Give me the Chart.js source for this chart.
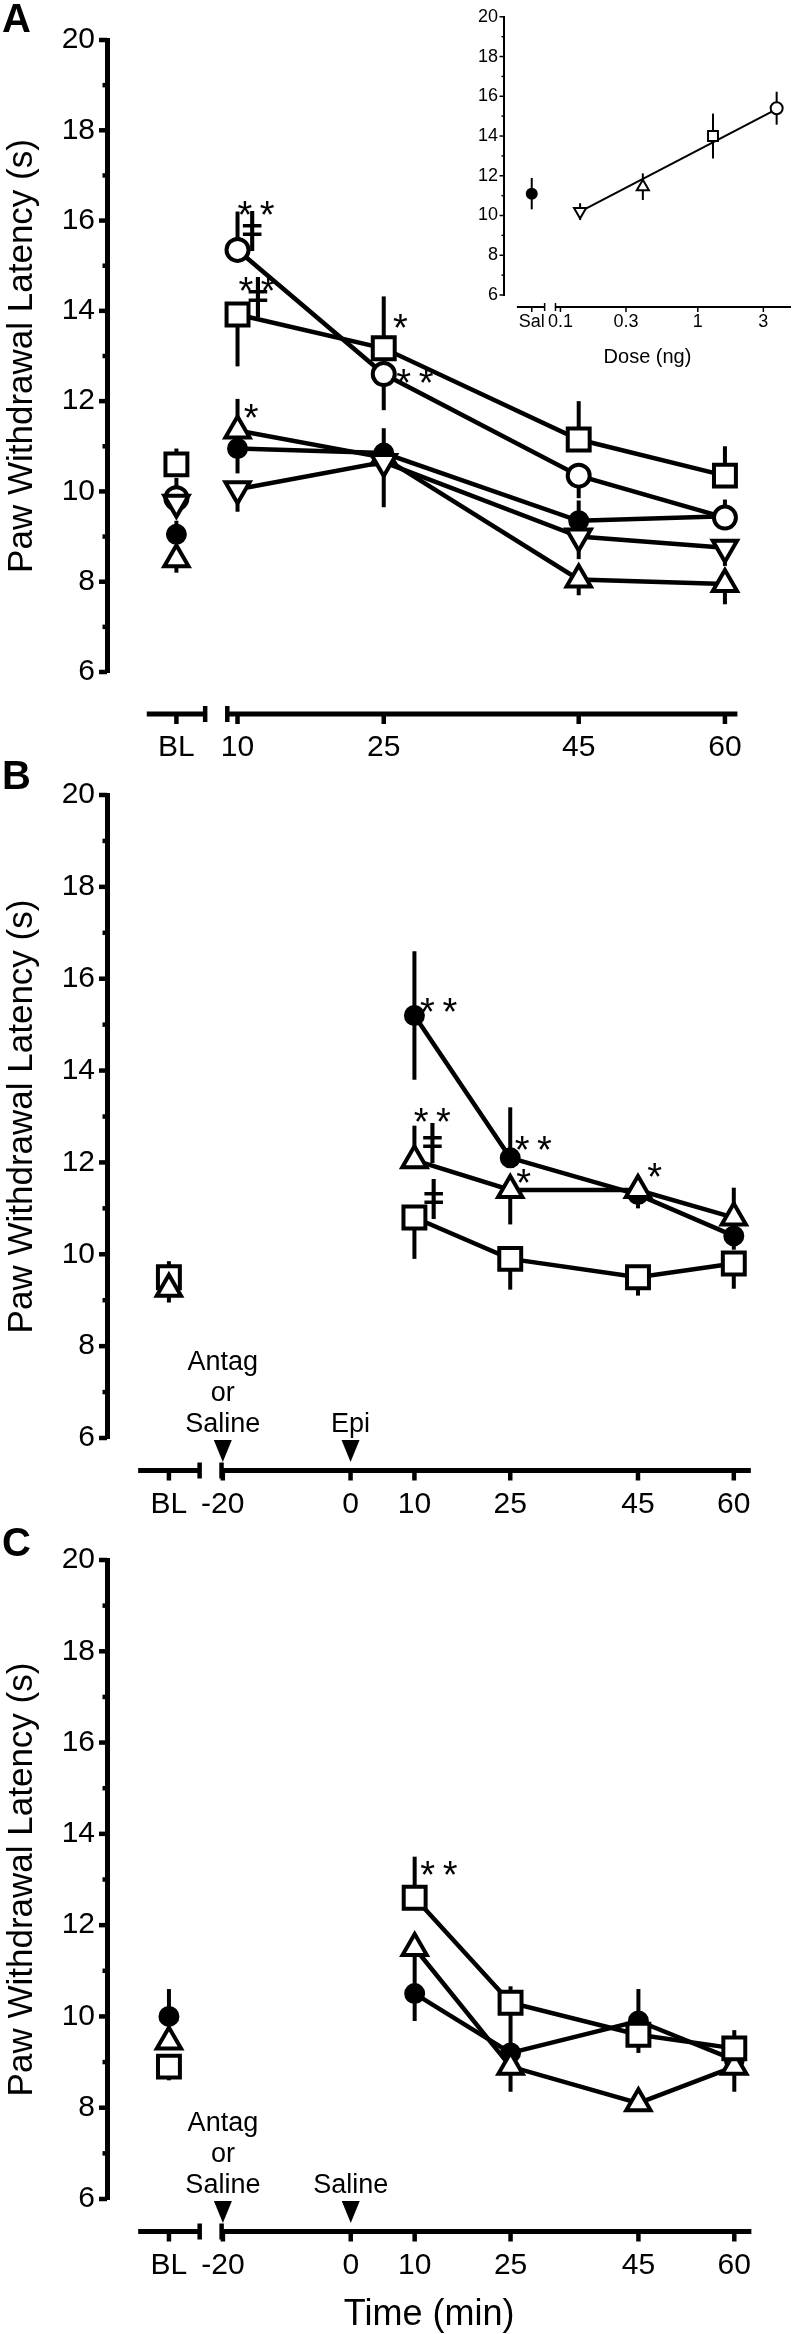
<!DOCTYPE html>
<html>
<head>
<meta charset="utf-8">
<title>Paw withdrawal latency</title>
<script src="https://cdn.jsdelivr.net/npm/chart.js@4.4.1/dist/chart.umd.min.js"></script>
<style>
  body { margin: 0; background: #fff; }
  #page { position: relative; width: 800px; height: 2334px; overflow: hidden; }
  #page canvas { position: absolute; left: 0; }
  .panel { position: absolute; left: 2px; margin: 0; font: bold 40px/40px "Liberation Sans", Arial, sans-serif; }
</style>
</head>
<body>
<div id="page">
  <canvas id="chartA" width="800" height="770" style="top:0"></canvas>
  <canvas id="inset" width="800" height="370" style="top:0"></canvas>
  <canvas id="chartB" width="800" height="780" style="top:750px"></canvas>
  <canvas id="chartC" width="800" height="804" style="top:1530px"></canvas>
  <div class="panel" style="top:-2px">A</div>
  <div class="panel" style="top:755px">B</div>
  <div class="panel" style="top:1522px">C</div>
</div>
<script>
Chart.defaults.font.family = '"Liberation Sans", Arial, Helvetica, sans-serif';
Chart.defaults.color = '#000';

const yTicks = [6, 8, 10, 12, 14, 16, 18, 20];

// ---- A: epinephrine doses over time
const timesA = ['BL', 10, 25, 45, 60];
const xLabelsA = ['BL', '10', '25', '45', '60'];
const aBox  = [10.6, 13.92, 13.17, 11.15, 10.35];
const aInv  = [9.75, 10.05, 10.65, 9.0, 8.75];
const aRing = [9.85, 15.35, 12.6, 10.35, 9.42];
const aDot  = [9.05, 10.95, 10.85, 9.35, 9.45];
const aTri  = [8.5, 11.35, 10.75, 8.05, 7.95];
// SEM, drawn on one side only: u = up, d = down, b = both
const aBoxSem  = [0.35, 1.15, 1.15, 0.85, 0.65], aBoxDir  = 'uduuu';
const aInvSem  = [0.3, 0.5, 1.0, 0.5, 0.4],      aInvDir  = 'ddddd';
const aRingSem = [0.45, 0.85, 0.8, 0.5, 0.4],    aRingDir = 'uuddu';
const aDotSem  = [0.3, 0.55, 0.55, 0.45, 0.3],   aDotDir  = 'uduud';
const aTriSem  = [0.3, 0.7, 0.3, 0.35, 0.45],    aTriDir  = 'duudd';
const notesA = [['**', 11.9, 16.24], ['ǂ', 11.5, 15.77], ['**', 12.0, 14.56], ['ǂ', 12.1, 14.31],
                ['*', 26.7, 13.75], ['**', 28.2, 12.53], ['*', 11.4, 11.74]];

// ---- inset: dose response at 10 min
const insetDose = [0.139, 0.398, 1.29, 3.75];
const insetVal  = [10.2, 11.45, 14.0, 15.4];
const insetSem  = [0.42, 0.67, 1.13, 0.83];
const insetSal = [11.1], insetSalSem = [0.79];
const fitDose = [0.139, 3.75], fitVal = [10.2, 15.35];
const insetLabels = ['Sal', '0.1', '0.3', '1', '3'];
const insetTickDose = [0.0618, 0.1, 0.3, 1, 3];

// ---- B: antagonist or saline, then epinephrine
const timesBC = ['BL', 10, 25, 45, 60];
const xLabelsBC = ['BL', '-20', '0', '10', '25', '45', '60'];
const xTickTimesBC = ['BL', -20, 0, 10, 25, 45, 60];
const bTri = [9.25, 12.05, 11.4, 11.4, 10.8];
const bBox = [9.5, 10.8, 9.9, 9.5, 9.8];
const bDot = [9.4, 15.2, 12.1, 11.3, 10.4];
const bTriSem = [0.3, 0.75, 0.75, 0.4, 0.65], bTriDir = 'duddu';
const bBoxSem = [0.35, 0.9, 0.67, 0.4, 0.55], bBoxDir = 'udddd';
const bDotSem = [0.3, 1.4, 1.1, 0.3, 0.3],    bDotDir = 'dbuud';
const notesB = [['**', 13.8, 15.4], ['**', 12.8, 13.0], ['ǂ', 12.8, 12.42], ['**', 28.6, 12.4],
                ['*', 27.1, 11.68], ['*', 47.6, 11.8], ['ǂ', 13.0, 11.2]];

// ---- C: antagonist or saline, then saline
const cBox = [8.9, 12.6, 10.3, 9.6, 9.3];
const cTri = [9.45, 11.5, 8.9, 8.1, 8.9];
const cDot = [10.0, 10.5, 9.2, 9.9, 9.05];
const cBoxSem = [0.3, 0.9, 0.36, 0.4, 0.4],   cBoxDir = 'duudu';
const cTriSem = [0.3, 1.0, 0.55, 0.15, 0.55], cTriDir = 'udddd';
const cDotSem = [0.6, 0.6, 0.9, 0.7, 0.3],    cDotDir = 'uduuu';
const notesC = [['**', 13.8, 13.22]];

const MARK = {
  dot:  {pointStyle: 'circle', pointRadius: 8.5, pointBackgroundColor: '#000'},
  ring: {pointStyle: 'circle', pointRadius: 11, pointBackgroundColor: '#fff'},
  box:  {pointStyle: 'rect', pointRadius: 15.5, pointBackgroundColor: '#fff'},
  tri:  {pointStyle: 'triangle', pointRadius: 14, pointBackgroundColor: '#fff'},
  inv:  {pointStyle: 'triangle', pointRadius: 14, pointRotation: 180, pointBackgroundColor: '#fff'}
};

const pos = (t, bl) => t === 'BL' ? bl : t;

function series(times, bl, vals, sem, dir, mark) {
  return Object.assign({
    data: vals.map((v, i) => ({x: pos(times[i], bl), y: v})),
    sem: sem, dir: dir,
    borderColor: '#000', borderWidth: 4.5,
    pointBorderColor: '#000', pointBorderWidth: 4,
    clip: false,
    // baseline is not joined to the time course
    segment: {borderColor: c => c.p0DataIndex === 0 ? 'rgba(0,0,0,0)' : undefined}
  }, mark);
}

const errBars = {
  id: 'errBars',
  beforeDatasetsDraw(chart, args, o) {
    const ctx = chart.ctx, ys = chart.scales.y;
    ctx.save();
    ctx.strokeStyle = '#000';
    ctx.lineWidth = o.width;
    chart.data.datasets.forEach((ds, i) => {
      if (!ds.sem) return;
      chart.getDatasetMeta(i).data.forEach((pt, j) => {
        const s = ds.sem[j], d = ds.dir[j], v = ds.data[j].y;
        const hi = d === 'd' ? v : v + s, lo = d === 'u' ? v : v - s;
        ctx.beginPath();
        ctx.moveTo(pt.x, ys.getPixelForValue(hi));
        ctx.lineTo(pt.x, ys.getPixelForValue(lo));
        ctx.stroke();
      });
    });
    ctx.restore();
  }
};

const axes = {
  id: 'axes',
  beforeDatasetsDraw(chart, args, o) {
    const {ctx, chartArea: ca} = chart;
    const xs = chart.scales.x, ys = chart.scales.y;
    ctx.save();
    ctx.strokeStyle = '#000';
    ctx.fillStyle = '#000';
    // y tick marks: long on labelled values, short in between
    ctx.lineWidth = o.tickW;
    for (let v = ys.min; v <= ys.max; v++) {
      const py = ys.getPixelForValue(v);
      ctx.beginPath();
      ctx.moveTo(ca.left, py);
      ctx.lineTo(ca.left - (v % 2 === 0 ? o.majLen : o.minLen), py);
      ctx.stroke();
    }
    // broken x axis, set off below the plot
    const ay = ca.bottom + o.xOff;
    ctx.lineWidth = o.axisW;
    o.segs.forEach(([a, b]) => {
      ctx.beginPath();
      ctx.moveTo(xs.getPixelForValue(a), ay);
      ctx.lineTo(b == null ? ca.right : xs.getPixelForValue(b), ay);
      ctx.stroke();
    });
    ctx.lineWidth = o.tickW;
    o.caps.forEach(v => {
      const px = xs.getPixelForValue(v);
      ctx.beginPath();
      ctx.moveTo(px, ay - o.capH);
      ctx.lineTo(px, ay + o.capH);
      ctx.stroke();
    });
    xs.ticks.forEach(t => {
      const px = xs.getPixelForValue(t.value);
      ctx.beginPath();
      ctx.moveTo(px, ay);
      ctx.lineTo(px, ay + o.xTickLen);
      ctx.stroke();
    });
    // injection arrows
    ctx.textAlign = 'center';
    ctx.textBaseline = 'middle';
    ctx.font = '27px "Liberation Sans", Arial, sans-serif';
    (o.arrows || []).forEach(a => {
      const px = xs.getPixelForValue(a.x);
      const tip = ay - 8.5, top = tip - 22;
      ctx.beginPath();
      ctx.moveTo(px - 9, top);
      ctx.lineTo(px + 9, top);
      ctx.lineTo(px, tip);
      ctx.closePath();
      ctx.fill();
      a.text.forEach((s, k) => ctx.fillText(s, px, top - 15 - (a.text.length - 1 - k) * 31));
    });
    ctx.restore();
  },
  afterDatasetsDraw(chart, args, o) {
    const ctx = chart.ctx, xs = chart.scales.x, ys = chart.scales.y;
    ctx.save();
    ctx.fillStyle = '#000';
    ctx.textAlign = 'center';
    ctx.textBaseline = 'middle';
    (o.notes || []).forEach(([t, x, y]) => {
      const star = t !== 'ǂ';
      ctx.font = star ? '38px "Liberation Sans", Arial, sans-serif' : '42px "DejaVu Sans", sans-serif';
      ctx.fillText(star ? t.split('').join('\u2009') : t, xs.getPixelForValue(x), ys.getPixelForValue(y) + (star ? 8 : 0));
    });
    ctx.restore();
  }
};

function panel(id, p) {
  return new Chart(document.getElementById(id), {
    type: 'line',
    data: {datasets: p.datasets},
    options: {
      responsive: false,
      animation: false,
      events: [],
      layout: {padding: {top: p.top, right: 12, left: 0, bottom: 0}},
      plugins: {
        legend: {display: false},
        tooltip: {enabled: false},
        errBars: {width: 4},
        axes: Object.assign({tickW: 4.5, axisW: 5, majLen: 8, minLen: 4.5, capH: 8, xTickLen: 10}, p.deco)
      },
      scales: {
        x: {
          type: 'linear', min: p.xMin, max: p.xMax,
          afterFit: s => { s.height = p.xH; },
          afterBuildTicks: s => { s.ticks = p.xTicks.map(v => ({value: v})); },
          grid: {display: false, drawTicks: false},
          border: {display: false},
          ticks: {autoSkip: false, maxRotation: 0, padding: p.xPad, font: {size: 30},
                  callback: (v, i) => p.xLabels[i]},
          title: p.xTitle || {display: false}
        },
        y: {
          min: 6, max: 20,
          afterFit: s => { s.width = 107; },
          afterBuildTicks: s => { s.ticks = yTicks.map(v => ({value: v})); },
          grid: {display: false, drawTicks: false},
          border: {display: true, width: 5, color: '#000'},
          ticks: {padding: 12, font: {size: 30}},
          title: {display: true, text: 'Paw Withdrawal Latency (s)',
                  font: {size: 35, lineHeight: 1}, padding: {top: 5, bottom: 0}}
        }
      }
    },
    plugins: [errBars, axes]
  });
}

// panel A
const blA = 3.73;
panel('chartA', {
  top: 40, xMin: -3.39, xMax: 61.28, xH: 98, xPad: 58,
  xTicks: timesA.map(t => pos(t, blA)), xLabels: xLabelsA,
  datasets: [
    series(timesA, blA, aBox, aBoxSem, aBoxDir, MARK.box),
    series(timesA, blA, aInv, aInvSem, aInvDir, MARK.inv),
    series(timesA, blA, aRing, aRingSem, aRingDir, MARK.ring),
    series(timesA, blA, aDot, aDotSem, aDotDir, MARK.dot),
    series(timesA, blA, aTri, aTriSem, aTriDir, MARK.tri)
  ],
  deco: {xOff: 42, segs: [[0.69, 6.68], [8.95, null]], caps: [6.68, 8.95], notes: notesA}
});

// panels B and C share the time axis
const blBC = -28.44;
const decoBC = {xOff: 32.5, segs: [[-33.25, -23.63], [-20.2, null]], caps: [-23.63, -20.2]};
panel('chartB', {
  top: 45, xMin: -38.13, xMax: 62.67, xH: 92, xPad: 49,
  xTicks: xTickTimesBC.map(t => pos(t, blBC)), xLabels: xLabelsBC,
  datasets: [
    series(timesBC, blBC, bTri, bTriSem, bTriDir, MARK.tri),
    series(timesBC, blBC, bBox, bBoxSem, bBoxDir, MARK.box),
    series(timesBC, blBC, bDot, bDotSem, bDotDir, MARK.dot)
  ],
  deco: Object.assign({notes: notesB,
    arrows: [{x: -20, text: ['Antag', 'or', 'Saline']}, {x: 0, text: ['Epi']}]}, decoBC)
});

panel('chartC', {
  top: 25, xMin: -38.13, xMax: 62.67, xH: 135, xPad: 48.5,
  xTicks: xTickTimesBC.map(t => pos(t, blBC)), xLabels: xLabelsBC,
  xTitle: {display: true, text: 'Time (min)', font: {size: 36, lineHeight: 1}, padding: {top: 0, bottom: 1}},
  datasets: [
    series(timesBC, blBC, cBox, cBoxSem, cBoxDir, MARK.box),
    series(timesBC, blBC, cTri, cTriSem, cTriDir, MARK.tri),
    series(timesBC, blBC, cDot, cDotSem, cDotDir, MARK.dot)
  ],
  deco: Object.assign({notes: notesC,
    arrows: [{x: -20, text: ['Antag', 'or', 'Saline']}, {x: 0, text: ['Saline']}]}, decoBC)
});

// inset: log dose axis with a saline column on the left
new Chart(document.getElementById('inset'), {
  type: 'line',
  data: {
    datasets: [
      {
        data: insetDose.map((d, i) => ({x: d, y: insetVal[i]})),
        sem: insetSem, dir: 'bbbb',
        showLine: false, clip: false,
        pointStyle: ['triangle', 'triangle', 'rect', 'circle'],
        pointRotation: [180, 0, 0, 0],
        pointRadius: [7, 7, 7, 6],
        pointBackgroundColor: '#fff', pointBorderColor: '#000', pointBorderWidth: 2
      },
      {
        data: insetSal.map(v => ({x: insetTickDose[0], y: v})),
        sem: insetSalSem, dir: 'b',
        showLine: false, clip: false,
        pointStyle: 'circle', pointRadius: 6,
        pointBackgroundColor: '#000', pointBorderColor: '#000', pointBorderWidth: 0
      },
      {
        data: fitDose.map((d, i) => ({x: d, y: fitVal[i]})),
        borderColor: '#000', borderWidth: 2, pointRadius: 0
      }
    ]
  },
  options: {
    responsive: false,
    animation: false,
    events: [],
    layout: {padding: {top: 16, right: 6, left: 444, bottom: 0}},
    plugins: {
      legend: {display: false},
      tooltip: {enabled: false},
      errBars: {width: 2},
      axes: {tickW: 1.5, axisW: 2, majLen: 4.5, minLen: 2.5, capH: 4, xTickLen: 5, xOff: 12,
             segs: [[0.0482, 0.0767], [0.092, null]], caps: [0.0767, 0.092]}
    },
    scales: {
      x: {
        type: 'logarithmic', min: 0.03882, max: 4.77,
        afterFit: s => { s.height = 75; },
        afterBuildTicks: s => { s.ticks = insetTickDose.map(v => ({value: v})); },
        grid: {display: false, drawTicks: false},
        border: {display: false},
        ticks: {autoSkip: false, maxRotation: 0, padding: 16, font: {size: 18},
                callback: (v, i) => insetLabels[i]},
        title: {display: true, text: 'Dose (ng)', font: {size: 20, lineHeight: 1}, padding: {top: 0, bottom: 3}}
      },
      y: {
        min: 6, max: 20,
        afterFit: s => { s.width = 60; },
        afterBuildTicks: s => { s.ticks = yTicks.map(v => ({value: v})); },
        grid: {display: false, drawTicks: false},
        border: {display: true, width: 2, color: '#000'},
        ticks: {padding: 6, font: {size: 18}}
      }
    }
  },
  plugins: [errBars, axes]
});
</script>
</body>
</html>
